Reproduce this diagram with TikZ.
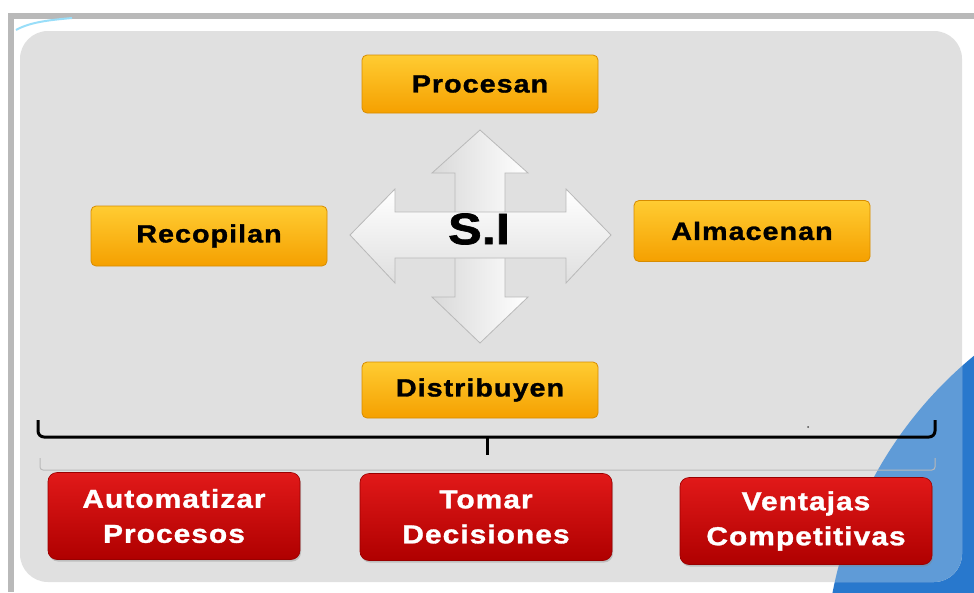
\documentclass[tikz,border=0pt]{standalone}
\usepackage{fontspec}
\newfontfamily\boxfont{Liberation Sans}[FakeStretch=1.15,LetterSpace=4,BoldFeatures={FakeBold=1.2}]
\newfontfamily\sifont{Liberation Sans}[FakeStretch=1.15,BoldFeatures={FakeBold=1.5}]
\usetikzlibrary{shadows}
\definecolor{panelgray}{RGB}{224,224,224}
\definecolor{orangetop}{RGB}{255,204,50}
\definecolor{orangebot}{RGB}{245,160,0}
\definecolor{orangeedge}{RGB}{215,140,0}
\definecolor{redtop}{RGB}{225,25,25}
\definecolor{redbot}{RGB}{175,0,0}
\definecolor{blueout}{RGB}{40,120,205}
\definecolor{bluein}{RGB}{95,155,215}
\tikzset{
  orangebox/.style={draw=orangeedge, line width=0.8pt, rounded corners=5pt,
    top color=orangetop, bottom color=orangebot,
    minimum width=236pt, minimum height=58pt,
    font=\boxfont\bfseries\fontsize{25}{28}\selectfont, text=black},
  redbox/.style={draw=red!60!black, line width=0.6pt, rounded corners=9pt,
    top color=redtop, bottom color=redbot,
    drop shadow={opacity=0.35, shadow xshift=1pt, shadow yshift=-2pt},
    minimum width=252pt, minimum height=87pt, align=center,
    font=\boxfont\bfseries\fontsize{26}{35}\selectfont, text=white},
  crossarrow/.style={draw=gray!55, line width=0.8pt, line join=miter},
}
\begin{document}
\begin{tikzpicture}[x=1pt,y=-1pt]
\useasboundingbox (0,0) rectangle (974,592);
\fill[white] (0,0) rectangle (974,592);
% outer frame shadow
\fill[gray!55] (8,13) rectangle (974,19);
\fill[gray!55] (8,13) rectangle (14,592);
% blue circle
\fill[blueout] (1233,671) circle (408);
% panel
\fill[panelgray, rounded corners=28pt] (20,31) rectangle (962,582);
\begin{scope}
  \clip[rounded corners=28pt] (20,31) rectangle (962,582);
  \fill[bluein] (1233,671) circle (408);
\end{scope}
% small cyan arc top-left
\draw[cyan!40, line width=2pt] (16,30) .. controls (30,22) and (50,20) .. (72,18);
% cross arrows
\draw[crossarrow, left color=gray!30, right color=white]
  (480,130) -- (528,173) -- (505,173) -- (505,297) -- (528,297) -- (480,343)
  -- (432,297) -- (455,297) -- (455,173) -- (432,173) -- cycle;
\draw[crossarrow, top color=white, bottom color=gray!25]
  (350,235) -- (395,189) -- (395,212) -- (566,212) -- (566,189) -- (611,235)
  -- (566,283) -- (566,258) -- (395,258) -- (395,283) -- cycle;
\node (si) at (479,229) {\sifont\bfseries\fontsize{44}{48}\selectfont S.I};
% orange boxes
\node[orangebox] (procesan) at (480,84) {Procesan};
\node[orangebox, minimum height=60pt] (recopilan) at (209,236) {Recopilan};
\node[orangebox, minimum height=61pt] (almacenan) at (752,231) {Almacenan};
\node[orangebox, minimum height=56pt] (distribuyen) at (480,390) {Distribuyen};
% brace
\draw[line width=3pt, rounded corners=6pt] (38,420) -- (38,437) -- (935,437) -- (935,420);
\draw[line width=3pt] (487,437) -- (487,455);
\draw[gray!55, line width=1pt, rounded corners=3pt] (40,458) -- (40,470) -- (935,470) -- (935,458);
\fill[black!70] (808,427) circle (1pt);
% red boxes
\node[redbox] (automatizar) at (174,516) {Automatizar\\Procesos};
\node[redbox] (tomar) at (486,517) {Tomar\\Decisiones};
\node[redbox] (ventajas) at (806,521) {Ventajas\\Competitivas};
\end{tikzpicture}
\end{document}
